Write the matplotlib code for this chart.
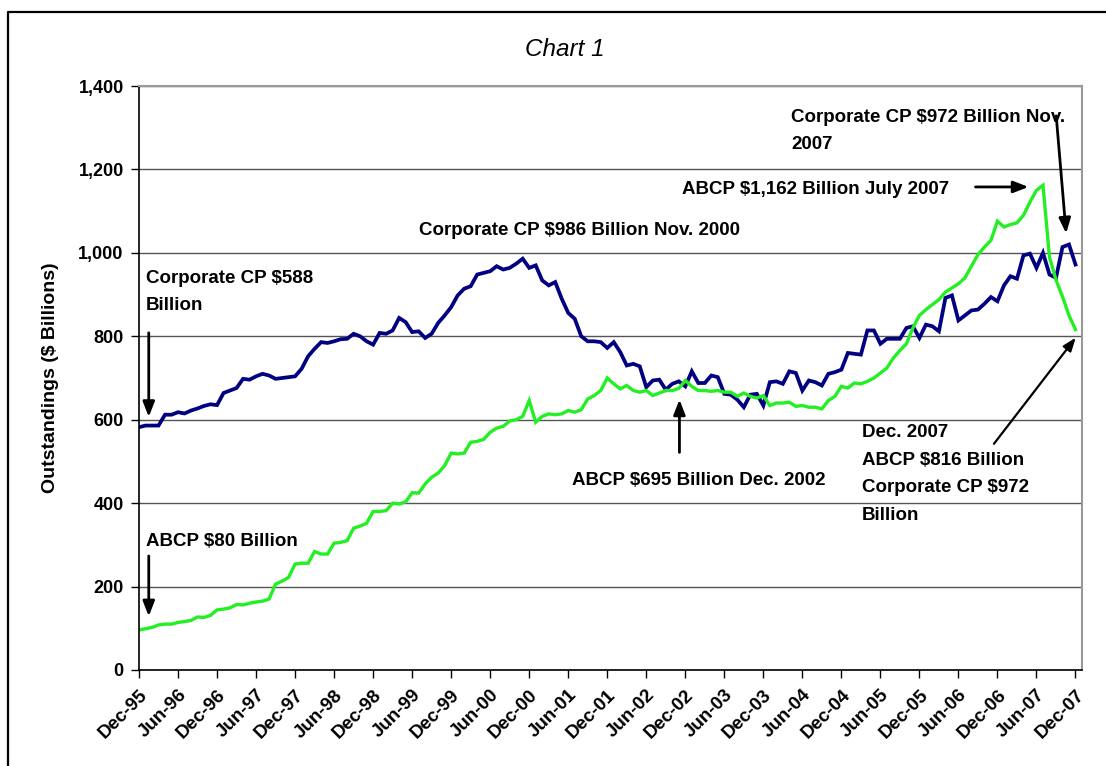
import numpy as np
import matplotlib
matplotlib.use("Agg")
import matplotlib.pyplot as plt
from matplotlib.lines import Line2D

# ---------------------------------------------------------------------------
# Data: monthly outstandings, Dec-95 .. Dec-07 ($ billions)
# ---------------------------------------------------------------------------
corporate_cp = [
    582, 586, 586, 586, 612, 612, 618, 615, 622, 627, 633, 637, 635, 664, 670,
    676, 698, 696, 704, 710, 706, 698, 700, 702, 704, 722, 752, 770, 786, 784,
    788, 793, 794, 806, 800, 788, 780, 808, 806, 814, 844, 834, 810, 812, 796,
    806, 832, 850, 870, 898, 914, 920, 948, 952, 956, 968, 960, 964, 974, 986,
    964, 970, 934, 922, 930, 890, 856, 842, 800, 788, 788, 786, 772, 786, 762,
    730, 734, 728, 678, 694, 696, 672, 686, 692, 680, 716, 688, 688, 706, 702,
    662, 660, 648, 630, 660, 662, 634, 690, 692, 686, 716, 712, 670, 694, 690,
    682, 710, 714, 720, 760, 758, 756, 814, 814, 782, 794, 794, 794, 820, 824,
    796, 828, 824, 812, 892, 898, 838, 850, 862, 864, 878, 894, 884, 922, 944,
    938, 994, 998, 964, 1000, 948, 940, 1014, 1020, 972,
]
abcp = [
    96, 99, 102, 108, 110, 110, 114, 116, 119, 127, 126, 131, 144, 146, 149,
    157, 156, 160, 163, 165, 170, 206, 213, 222, 254, 256, 256, 284, 278, 278,
    304, 306, 310, 340, 345, 352, 380, 380, 382, 400, 398, 403, 425, 424, 446,
    462, 472, 490, 520, 518, 520, 546, 548, 553, 570, 580, 584, 597, 600, 608,
    646, 594, 608, 614, 612, 614, 622, 618, 624, 650, 658, 670, 700, 686, 674,
    682, 670, 666, 670, 658, 664, 670, 670, 675, 694, 680, 670, 670, 668, 670,
    666, 666, 656, 664, 656, 652, 658, 634, 640, 640, 642, 632, 634, 630, 630,
    626, 646, 656, 680, 676, 688, 686, 692, 700, 712, 724, 748, 766, 782, 820,
    850, 864, 876, 888, 906, 916, 926, 940, 968, 996, 1014, 1030, 1076, 1062,
    1068, 1072, 1090, 1122, 1150, 1162, 990, 935, 895, 850, 816,
]
tick_labels = [
    "Dec-95", "Jun-96", "Dec-96", "Jun-97", "Dec-97", "Jun-98", "Dec-98",
    "Jun-99", "Dec-99", "Jun-00", "Dec-00", "Jun-01", "Dec-01", "Jun-02",
    "Dec-02", "Jun-03", "Dec-03", "Jun-04", "Dec-04", "Jun-05", "Dec-05",
    "Jun-06", "Dec-06", "Jun-07", "Dec-07",
]

FONT = ["Liberation Sans Narrow", "Liberation Sans", "DejaVu Sans"]
plt.rcParams["font.family"] = FONT

months = np.arange(len(corporate_cp))

fig = plt.figure(figsize=(11.06, 7.66), dpi=100)
ax = fig.add_axes([139 / 1106, 1 - 670 / 766, (1082 - 139) / 1106, (670 - 86) / 766])

# outer chart frame (only top and left visible in the original)
fig.add_artist(Line2D([8 / 1106, 8 / 1106, 1.0], [0.0, 1 - 12 / 766, 1 - 12 / 766],
                      transform=fig.transFigure, color="black", linewidth=1.6))

ax.plot(months, corporate_cp, color="#000080", linewidth=2.7, solid_joinstyle="miter")
ax.plot(months, abcp, color="#22F022", linewidth=2.4, solid_joinstyle="miter")

ax.set_xlim(0, 145)
ax.set_ylim(0, 1400)
ax.set_yticks(np.arange(0, 1401, 200))
ax.set_yticklabels([f"{v:,}" for v in range(0, 1401, 200)],
                   fontsize=13, fontweight="bold")
ax.set_xticks(np.arange(0, 145, 6))
ax.set_xticklabels(tick_labels, rotation=45, ha="right", rotation_mode="anchor",
                   fontsize=13.5, fontweight="bold")
ax.tick_params(axis="both", direction="out", length=6, width=1, color="black")
ax.tick_params(axis="x", pad=6)
ax.tick_params(axis="y", pad=5)

ax.grid(axis="y", color="#555555", linewidth=1)
ax.set_axisbelow(True)
for side in ("top", "right"):
    ax.spines[side].set_color("#999999")
    ax.spines[side].set_linewidth(1.5)
for side in ("left", "bottom"):
    ax.spines[side].set_color("black")
    ax.spines[side].set_linewidth(1.2)

ax.set_ylabel("Outstandings ($ Billions)", fontsize=14, fontweight="bold", labelpad=14)
fig.text(565 / 1106, 1 - 49 / 766, "Chart 1", ha="center", va="center",
         fontsize=17.5, fontstyle="italic", family=["Liberation Sans", "DejaVu Sans"])

# annotations
txt = dict(fontsize=13.5, fontweight="bold", color="black")
arrow_v = dict(arrowstyle="-|>,head_width=0.35,head_length=0.9", color="black", lw=2)
arrow_d = dict(arrowstyle="-|>,head_width=0.3,head_length=0.8", color="black", lw=1.6)

ax.text(1.0, 906, "Corporate CP $588\nBillion", ha="left", va="center",
        linespacing=1.75, **txt)
ax.annotate("", xy=(1.5, 600), xytext=(1.5, 815), arrowprops=arrow_v)

ax.text(1.0, 307, "ABCP $80 Billion", ha="left", va="center", **txt)
ax.annotate("", xy=(1.5, 122), xytext=(1.5, 280), arrowprops=arrow_v)

ax.text(67.7, 1053, "Corporate CP $986 Billion Nov. 2000", ha="center", va="center", **txt)

ax.text(124.6, 1152, "ABCP $1,162 Billion July 2007", ha="right", va="center", **txt)
ax.annotate("", xy=(137.2, 1158), xytext=(128.2, 1158), arrowprops=arrow_v)

ax.text(100.3, 1292, "Corporate CP $972 Billion Nov.\n2007", ha="left", va="center",
        linespacing=1.8, **txt)
ax.annotate("", xy=(142.6, 1040), xytext=(141.0, 1335), arrowprops=arrow_v)

ax.text(86.0, 455, "ABCP $695 Billion Dec. 2002", ha="center", va="center", **txt)
ax.annotate("", xy=(83.1, 655), xytext=(83.1, 515), arrowprops=arrow_v)

ax.text(111.2, 470, "Dec. 2007\nABCP $816 Billion\nCorporate CP $972\nBillion",
        ha="left", va="center", linespacing=1.8, **txt)
ax.annotate("", xy=(144.3, 802), xytext=(131.2, 537), arrowprops=arrow_d)

fig.savefig("out.png", dpi=100)
